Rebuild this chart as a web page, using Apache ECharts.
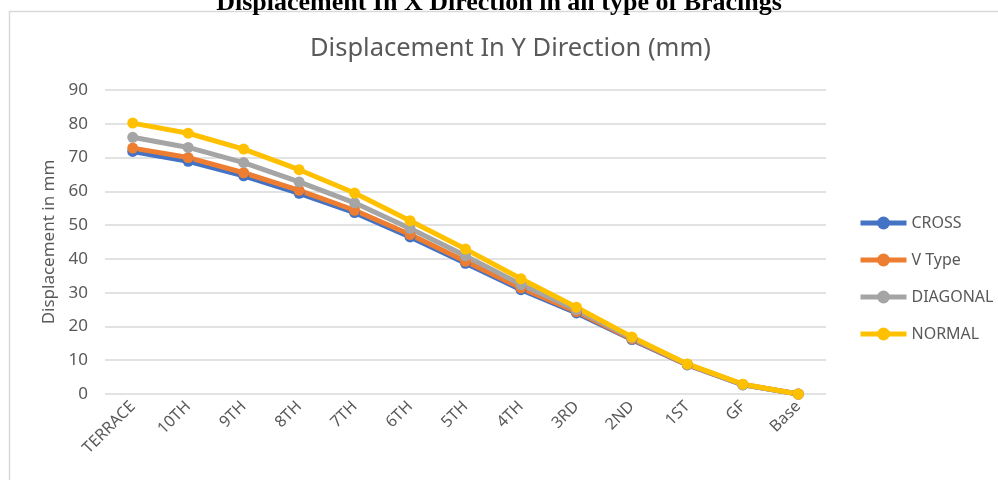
<!DOCTYPE html>
<html>
<head>
<meta charset="utf-8">
<script src="https://cdn.jsdelivr.net/npm/echarts@6/dist/echarts.min.js"></script>
<style>
  html, body { margin: 0; padding: 0; background: #fff; }
  #main { width: 998px; height: 480px; }
</style>
</head>
<body>
<div id="main"></div>
<script>
  // storeys, top to bottom
  var floors = ['TERRACE', '10TH', '9TH', '8TH', '7TH', '6TH', '5TH', '4TH', '3RD', '2ND', '1ST', 'GF', 'Base'];
  var cross = [71.8, 68.9, 64.6, 59.4, 53.7, 46.5, 38.7, 30.9, 24.0, 16.1, 8.6, 2.7, 0];
  var vType = [72.8, 70.0, 65.5, 60.3, 54.4, 47.2, 39.3, 31.4, 24.4, 16.3, 8.7, 2.8, 0];
  var diagonal = [76.0, 73.0, 68.5, 62.8, 56.6, 49.0, 40.9, 32.4, 25.0, 16.6, 8.8, 2.8, 0];
  var normal = [80.2, 77.2, 72.5, 66.4, 59.5, 51.3, 42.9, 34.1, 25.7, 16.9, 8.9, 2.9, 0];

  var txt = '#595959';
  var font = 'Noto Sans, Open Sans, sans-serif';

  function mkSeries(name, color, data) {
    return {
      name: name,
      type: 'line',
      data: data,
      symbol: 'circle',
      symbolSize: 11,
      lineStyle: { width: 5, color: color },
      itemStyle: { color: color },
      emphasis: { disabled: true }
    };
  }

  var myChart = echarts.init(document.getElementById('main'));
  var option = {
    animation: false,
    textStyle: { fontFamily: font },
    title: [
      {
        text: 'Displacement In X Direction in all type of Bracings',
        left: 'center',
        top: -15,
        textStyle: { fontFamily: 'Liberation Serif, Times New Roman, serif', fontWeight: 'bold', fontSize: 26, color: '#000' }
      },
      {
        text: 'Displacement In Y Direction (mm)',
        left: 305,
        top: 31,
        textStyle: { fontFamily: font, fontWeight: 'normal', fontSize: 25.5, color: txt }
      }
    ],
    graphic: [{
      type: 'rect',
      shape: { x: 9.5, y: 11.5, width: 1000, height: 480 },
      style: { fill: 'none', stroke: '#d9d9d9', lineWidth: 1.5 },
      silent: true
    }],
    legend: {
      orient: 'vertical',
      left: 853,
      top: 210,
      itemWidth: 46,
      itemHeight: 16,
      itemGap: 21,
      lineStyle: { width: 5 },
      textStyle: { color: txt, fontSize: 16, fontFamily: font, lineHeight: 16 },
      data: ['CROSS', 'V Type', 'DIAGONAL', 'NORMAL']
    },
    grid: { left: 105, right: 172, top: 90, bottom: 86 },
    xAxis: {
      type: 'category',
      data: floors,
      boundaryGap: true,
      axisLine: { show: false },
      axisTick: { show: false },
      axisLabel: { rotate: 45, color: txt, fontSize: 16, margin: 10, interval: 0 }
    },
    yAxis: {
      type: 'value',
      min: 0,
      max: 90,
      interval: 10,
      name: 'Displacement in mm',
      nameLocation: 'middle',
      nameGap: 47,
      nameTextStyle: { color: txt, fontSize: 17 },
      axisLine: { show: false },
      axisTick: { show: false },
      axisLabel: { color: txt, fontSize: 17, margin: 17 },
      splitLine: { lineStyle: { color: '#d9d9d9', width: 1.5 } }
    },
    series: [
      mkSeries('CROSS', '#4472C4', cross),
      mkSeries('V Type', '#ED7D31', vType),
      mkSeries('DIAGONAL', '#A5A5A5', diagonal),
      mkSeries('NORMAL', '#FFC000', normal)
    ]
  };
  myChart.setOption(option);
</script>
</body>
</html>
